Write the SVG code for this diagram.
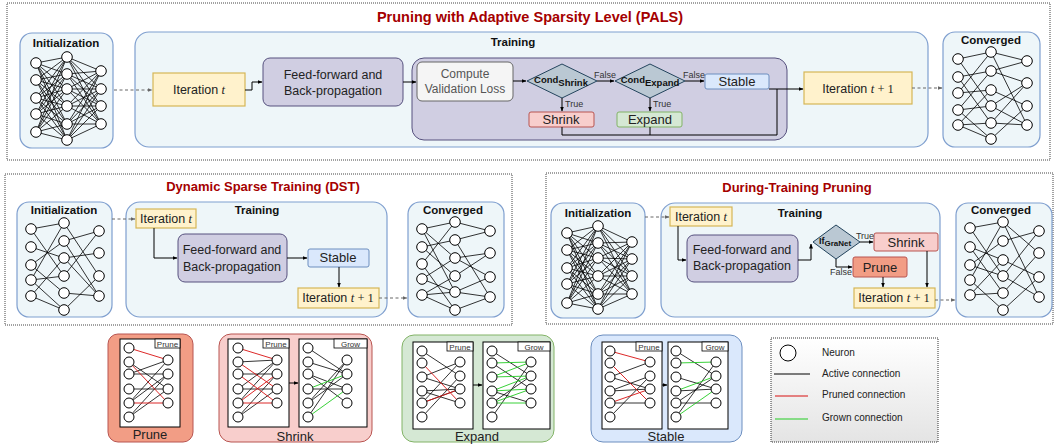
<svg xmlns="http://www.w3.org/2000/svg" width="1055" height="445" viewBox="0 0 1055 445">
<defs>
<marker id="arr" viewBox="0 0 10 10" refX="9" refY="5" markerWidth="5" markerHeight="5" orient="auto"><path d="M0,1L10,5L0,9z" fill="#000"/></marker>
<marker id="arrg" viewBox="0 0 10 10" refX="9" refY="5" markerWidth="5" markerHeight="5" orient="auto"><path d="M0,1L10,5L0,9z" fill="#666"/></marker>
<linearGradient id="lg" x1="0" y1="0" x2="0" y2="1"><stop offset="0" stop-color="#ffffff"/><stop offset="1" stop-color="#e4e4e4"/></linearGradient>
</defs>
<style>
text{font-family:"Liberation Sans",Arial,sans-serif;fill:#222}
.title{font-size:13px;font-weight:bold;fill:#a50000;text-anchor:middle}
.hdr{font-size:11.5px;font-weight:bold;fill:#111;text-anchor:middle}
.lbl{font-size:12.5px;text-anchor:middle}
.small{font-size:9px;fill:#333}
.m{font-family:"Liberation Serif","Times New Roman",serif}
.mi{font-family:"Liberation Serif","Times New Roman",serif;font-style:italic}
.outer{fill:none;stroke:#444;stroke-width:1;stroke-dasharray:1 1}
.cont{fill:#eef6f9;stroke:#7f9fcf;stroke-width:1.2}
.ff{fill:#d0cee2;stroke:#56517e;stroke-width:1}
.iter{fill:#fff2cc;stroke:#d6b656;stroke-width:1.2}
.stab{fill:#dae8fc;stroke:#6c8ebf;stroke-width:1}
.shr{fill:#f8cecc;stroke:#b85450;stroke-width:1}
.exp{fill:#d5e8d4;stroke:#82b366;stroke-width:1}
.prn{fill:#f29d85;stroke:#b85450;stroke-width:1}
.dia{fill:#bac8d3;stroke:#23445d;stroke-width:1}
.e{fill:none;stroke:#000;stroke-width:0.8}
.er{fill:none;stroke:#d81010;stroke-width:0.9}
.eg{fill:none;stroke:#22cc22;stroke-width:0.9}
.n circle{fill:#fff;stroke:#000;stroke-width:1}
.ib{fill:#fff;stroke:#000;stroke-width:1}
.tag{fill:#fff;stroke:#000;stroke-width:0.8}
.tagt{font-size:8px;fill:#333;text-anchor:middle}
.c{fill:none;stroke:#000;stroke-width:1}
.cd{fill:none;stroke:#666;stroke-width:1;stroke-dasharray:3 2.5}
</style>

<!-- ================= PALS ================= -->
<rect class="outer" x="7" y="3" width="1043" height="157"/>
<text class="title" x="530" y="22" style="font-size:14.5px">Pruning with Adaptive Sparsity Level (PALS)</text>

<g id="pals-init">
<rect class="cont" x="20" y="33" width="93" height="115" rx="12"/>
<text class="hdr" x="66" y="47">Initialization</text>
<path class="e" d="M36 63L67 57M36 63L67 74M36 63L67 89M36 63L67 106M36 63L67 124M36 63L67 140M36 80L67 57M36 80L67 74M36 80L67 89M36 80L67 106M36 80L67 124M36 80L67 140M36 98L67 57M36 98L67 74M36 98L67 89M36 98L67 106M36 98L67 124M36 98L67 140M36 114L67 57M36 114L67 74M36 114L67 89M36 114L67 106M36 114L67 124M36 114L67 140M36 132L67 57M36 132L67 74M36 132L67 89M36 132L67 106M36 132L67 124M36 132L67 140M67 57L101 71M67 57L101 89M67 57L101 106M67 57L101 124M67 74L101 71M67 74L101 89M67 74L101 106M67 74L101 124M67 89L101 71M67 89L101 89M67 89L101 106M67 89L101 124M67 106L101 71M67 106L101 89M67 106L101 106M67 106L101 124M67 124L101 71M67 124L101 89M67 124L101 106M67 124L101 124M67 140L101 71M67 140L101 89M67 140L101 106M67 140L101 124"/>
<g class="n">
<circle cx="36" cy="63" r="5.3"/><circle cx="36" cy="80" r="5.3"/><circle cx="36" cy="98" r="5.3"/><circle cx="36" cy="114" r="5.3"/><circle cx="36" cy="132" r="5.3"/>
<circle cx="67" cy="57" r="5.3"/><circle cx="67" cy="74" r="5.3"/><circle cx="67" cy="89" r="5.3"/><circle cx="67" cy="106" r="5.3"/><circle cx="67" cy="124" r="5.3"/><circle cx="67" cy="140" r="5.3"/>
<circle cx="101" cy="71" r="5.3"/><circle cx="101" cy="89" r="5.3"/><circle cx="101" cy="106" r="5.3"/><circle cx="101" cy="124" r="5.3"/>
</g>
</g>

<g id="pals-training">
<rect class="cont" x="135" y="32" width="793" height="115" rx="14"/>
<text class="hdr" x="513" y="46">Training</text>
</g>
<g id="pals-loop">
<rect class="ff" x="412" y="58" width="375" height="82" rx="12"/>
</g>
<g id="pals-iter-t">
<rect class="iter" x="153" y="73" width="92" height="33"/>
<text class="lbl" x="199" y="94">Iteration <tspan class="mi">t</tspan></text>
</g>
<g id="pals-ff">
<rect class="ff" x="263" y="58" width="140" height="48" rx="7"/>
<text class="lbl" x="333" y="79">Feed-forward and</text>
<text class="lbl" x="333" y="95">Back-propagation</text>
</g>
<g id="pals-compute">
<rect x="417" y="62" width="96" height="39" rx="5" fill="#f5f5f5" stroke="#666"/>
<text class="lbl" x="465" y="78" style="fill:#555;font-size:12px">Compute</text>
<text class="lbl" x="465" y="93" style="fill:#555;font-size:12px">Validation Loss</text>
</g>
<g id="pals-cond-shrink">
<polygon class="dia" points="527,81 562,64 597,81 562,98"/>
<text x="561" y="83" style="font-size:9.5px;font-weight:bold;text-anchor:middle;fill:#111">Cond<tspan dy="3">Shrink</tspan></text>
</g>
<g id="pals-cond-expand">
<polygon class="dia" points="615,81 650,64 685,81 650,98"/>
<text x="650" y="83" style="font-size:9.5px;font-weight:bold;text-anchor:middle;fill:#111">Cond<tspan dy="3">Expand</tspan></text>
</g>
<g id="pals-stable">
<rect class="stab" x="705" y="74" width="64" height="15" rx="2"/>
<text class="lbl" x="737" y="86" style="font-size:13px">Stable</text>
</g>
<g id="pals-shrink">
<rect class="shr" x="529" y="112" width="65" height="15" rx="2"/>
<text class="lbl" x="561" y="124" style="font-size:13px">Shrink</text>
</g>
<g id="pals-expand">
<rect class="exp" x="617" y="112" width="65" height="15" rx="2"/>
<text class="lbl" x="650" y="124" style="font-size:13px">Expand</text>
</g>
<g id="pals-iter-t1">
<rect class="iter" x="804" y="72" width="108" height="32"/>
<text class="lbl" x="858" y="93">Iteration <tspan class="mi">t</tspan><tspan class="m"> + 1</tspan></text>
</g>

<g id="pals-converged">
<rect class="cont" x="943" y="32" width="97" height="115" rx="12"/>
<text class="hdr" x="991" y="44">Converged</text>
<path class="e" d="M958 59L991 52M958 59L991 106M958 77L991 71M958 77L991 123M958 93L991 52M958 93L991 90M958 110L991 71M958 110L991 106M958 110L991 139M958 125L991 90M958 125L991 123M958 125L991 139M991 52L1027 61M991 52L1027 125M991 71L1027 61M991 71L1027 83M991 90L1027 106M991 106L1027 83M991 106L1027 125M991 123L1027 83M991 123L1027 125M991 139L1027 106"/>
<g class="n">
<circle cx="958" cy="59" r="5.3"/><circle cx="958" cy="77" r="5.3"/><circle cx="958" cy="93" r="5.3"/><circle cx="958" cy="110" r="5.3"/><circle cx="958" cy="125" r="5.3"/>
<circle cx="991" cy="52" r="5.3"/><circle cx="991" cy="71" r="5.3"/><circle cx="991" cy="90" r="5.3"/><circle cx="991" cy="106" r="5.3"/><circle cx="991" cy="123" r="5.3"/><circle cx="991" cy="139" r="5.3"/>
<circle cx="1027" cy="61" r="5.3"/><circle cx="1027" cy="83" r="5.3"/><circle cx="1027" cy="106" r="5.3"/><circle cx="1027" cy="125" r="5.3"/>
</g>
</g>

<!-- ================= DST ================= -->
<rect class="outer" x="5" y="174" width="507" height="151"/>
<text class="title" x="263" y="191">Dynamic Sparse Training (DST)</text>

<g id="dst-init">
<rect class="cont" x="17" y="202" width="95" height="115" rx="12"/>
<text class="hdr" x="64" y="214">Initialization</text>
<path class="e" d="M31 229L64 223M31 229L64 276M31 247L64 258M31 265L64 241M31 265L64 293M31 280L64 223M31 280L64 276M31 280L64 310M31 296L64 258M31 296L64 310M64 223L99 276M64 241L99 231M64 241L99 296M64 258L99 253M64 276L99 231M64 293L99 296M64 310L99 276M64 258L99 296"/>
<g class="n">
<circle cx="31" cy="229" r="5.3"/><circle cx="31" cy="247" r="5.3"/><circle cx="31" cy="265" r="5.3"/><circle cx="31" cy="280" r="5.3"/><circle cx="31" cy="296" r="5.3"/>
<circle cx="64" cy="223" r="5.3"/><circle cx="64" cy="241" r="5.3"/><circle cx="64" cy="258" r="5.3"/><circle cx="64" cy="276" r="5.3"/><circle cx="64" cy="293" r="5.3"/><circle cx="64" cy="310" r="5.3"/>
<circle cx="99" cy="231" r="5.3"/><circle cx="99" cy="253" r="5.3"/><circle cx="99" cy="276" r="5.3"/><circle cx="99" cy="296" r="5.3"/>
</g>
</g>
<g id="dst-training">
<rect class="cont" x="126" y="202" width="261" height="115" rx="14"/>
<text class="hdr" x="257" y="214">Training</text>
</g>
<g id="dst-iter-t">
<rect class="iter" x="136" y="209" width="60" height="19"/>
<text class="lbl" x="166" y="223">Iteration <tspan class="mi">t</tspan></text>
</g>
<g id="dst-ff">
<rect class="ff" x="178" y="234" width="109" height="48" rx="7"/>
<text class="lbl" x="232" y="254">Feed-forward and</text>
<text class="lbl" x="232" y="271">Back-propagation</text>
</g>
<g id="dst-stable">
<rect class="stab" x="308" y="249" width="61" height="18" rx="2"/>
<text class="lbl" x="338" y="262" style="font-size:13px">Stable</text>
</g>
<g id="dst-iter-t1">
<rect class="iter" x="298" y="288" width="81" height="20"/>
<text class="lbl" x="338" y="302">Iteration <tspan class="mi">t</tspan><tspan class="m"> + 1</tspan></text>
</g>
<g id="dst-converged">
<rect class="cont" x="408" y="202" width="96" height="115" rx="12"/>
<text class="hdr" x="453" y="214">Converged</text>
<path class="e" d="M422 229L455 222M422 229L455 258M422 229L455 292M422 247L455 240M422 247L455 276M422 264L455 222M422 264L455 310M422 279L455 258M422 279L455 292M422 295L455 276M422 295L455 292M422 295L455 310M455 222L490 231M455 240L490 231M455 240L490 297M455 258L490 253M455 258L490 277M455 276L490 253M455 292L490 277M455 292L490 297M455 310L490 297"/>
<g class="n">
<circle cx="422" cy="229" r="5.3"/><circle cx="422" cy="247" r="5.3"/><circle cx="422" cy="264" r="5.3"/><circle cx="422" cy="279" r="5.3"/><circle cx="422" cy="295" r="5.3"/>
<circle cx="455" cy="222" r="5.3"/><circle cx="455" cy="240" r="5.3"/><circle cx="455" cy="258" r="5.3"/><circle cx="455" cy="276" r="5.3"/><circle cx="455" cy="292" r="5.3"/><circle cx="455" cy="310" r="5.3"/>
<circle cx="490" cy="231" r="5.3"/><circle cx="490" cy="253" r="5.3"/><circle cx="490" cy="277" r="5.3"/><circle cx="490" cy="297" r="5.3"/>
</g>
</g>

<!-- ================= During-Training Pruning ================= -->
<rect class="outer" x="546" y="173" width="507" height="151"/>
<text class="title" x="797" y="192">During-Training Pruning</text>

<g id="dtp-init">
<rect class="cont" x="551" y="203" width="94" height="115" rx="12"/>
<text class="hdr" x="598" y="217">Initialization</text>
<path class="e" d="M567 233L598 226M567 233L598 243M567 233L598 258M567 233L598 276M567 233L598 294M567 233L598 309M567 250L598 226M567 250L598 243M567 250L598 258M567 250L598 276M567 250L598 294M567 250L598 309M567 268L598 226M567 268L598 243M567 268L598 258M567 268L598 276M567 268L598 294M567 268L598 309M567 284L598 226M567 284L598 243M567 284L598 258M567 284L598 276M567 284L598 294M567 284L598 309M567 303L598 226M567 303L598 243M567 303L598 258M567 303L598 276M567 303L598 294M567 303L598 309M598 226L632 242M598 226L632 259M598 226L632 276M598 226L632 294M598 243L632 242M598 243L632 259M598 243L632 276M598 243L632 294M598 258L632 242M598 258L632 259M598 258L632 276M598 258L632 294M598 276L632 242M598 276L632 259M598 276L632 276M598 276L632 294M598 294L632 242M598 294L632 259M598 294L632 276M598 294L632 294M598 309L632 242M598 309L632 259M598 309L632 276M598 309L632 294"/>
<g class="n">
<circle cx="567" cy="233" r="5.3"/><circle cx="567" cy="250" r="5.3"/><circle cx="567" cy="268" r="5.3"/><circle cx="567" cy="284" r="5.3"/><circle cx="567" cy="303" r="5.3"/>
<circle cx="598" cy="226" r="5.3"/><circle cx="598" cy="243" r="5.3"/><circle cx="598" cy="258" r="5.3"/><circle cx="598" cy="276" r="5.3"/><circle cx="598" cy="294" r="5.3"/><circle cx="598" cy="309" r="5.3"/>
<circle cx="632" cy="242" r="5.3"/><circle cx="632" cy="259" r="5.3"/><circle cx="632" cy="276" r="5.3"/><circle cx="632" cy="294" r="5.3"/>
</g>
</g>
<g id="dtp-training">
<rect class="cont" x="661" y="203" width="279" height="114" rx="14"/>
<text class="hdr" x="800" y="217">Training</text>
</g>
<g id="dtp-iter-t">
<rect class="iter" x="670" y="207" width="62" height="19"/>
<text class="lbl" x="701" y="221">Iteration <tspan class="mi">t</tspan></text>
</g>
<g id="dtp-ff">
<rect class="ff" x="687" y="235" width="111" height="47" rx="7"/>
<text class="lbl" x="742" y="254">Feed-forward and</text>
<text class="lbl" x="742" y="270">Back-propagation</text>
</g>
<g id="dtp-if">
<polygon class="dia" points="813,242 836,225 860,242 836,259"/>
<text x="835" y="244" style="font-size:9px;font-weight:bold;text-anchor:middle;fill:#111">If<tspan dy="2" style="font-size:8px">GraNet</tspan></text>
</g>
<g id="dtp-shrink">
<rect class="shr" x="874" y="233" width="64" height="18" rx="2"/>
<text class="lbl" x="906" y="247" style="font-size:13px">Shrink</text>
</g>
<g id="dtp-prune">
<rect class="prn" x="853" y="257" width="54" height="20" rx="2"/>
<text class="lbl" x="880" y="272" style="font-size:13px">Prune</text>
</g>
<g id="dtp-iter-t1">
<rect class="iter" x="854" y="288" width="81" height="20"/>
<text class="lbl" x="894" y="302">Iteration <tspan class="mi">t</tspan><tspan class="m"> + 1</tspan></text>
</g>
<g id="dtp-converged">
<rect class="cont" x="956" y="203" width="96" height="114" rx="12"/>
<text class="hdr" x="1001" y="214">Converged</text>
<path class="e" d="M970 228L1003 222M970 228L1003 276M970 247L1003 260M970 247L1003 293M970 265L1003 241M970 265L1003 276M970 280L1003 222M970 280L1003 310M970 295L1003 260M970 295L1003 293M1003 222L1039 253M1003 222L1039 297M1003 241L1039 231M1003 260L1039 277M1003 276L1039 231M1003 276L1039 297M1003 293L1039 253M1003 310L1039 277"/>
<g class="n">
<circle cx="970" cy="228" r="5.3"/><circle cx="970" cy="247" r="5.3"/><circle cx="970" cy="265" r="5.3"/><circle cx="970" cy="280" r="5.3"/><circle cx="970" cy="295" r="5.3"/>
<circle cx="1003" cy="222" r="5.3"/><circle cx="1003" cy="241" r="5.3"/><circle cx="1003" cy="260" r="5.3"/><circle cx="1003" cy="276" r="5.3"/><circle cx="1003" cy="293" r="5.3"/><circle cx="1003" cy="310" r="5.3"/>
<circle cx="1039" cy="231" r="5.3"/><circle cx="1039" cy="253" r="5.3"/><circle cx="1039" cy="277" r="5.3"/><circle cx="1039" cy="297" r="5.3"/>
</g>
</g>

<!-- ================= Connectors ================= -->
<g id="connectors">
<path class="cd" d="M114 90H152" marker-end="url(#arrg)"/>
<path class="c" d="M245 90H252V82H262" marker-end="url(#arr)"/>
<path class="c" d="M403 82H416" marker-end="url(#arr)"/>
<path class="c" d="M513 81H526" marker-end="url(#arr)"/>
<path class="c" d="M597 81H614" marker-end="url(#arr)"/>
<path class="c" d="M685 81H704" marker-end="url(#arr)"/>
<path class="c" d="M562 98V111" marker-end="url(#arr)"/>
<path class="c" d="M650 98V111" marker-end="url(#arr)"/>
<path class="c" d="M562 127V135H777V89"/>
<path class="c" d="M650 127V135"/>
<path class="c" d="M769 89H803" marker-end="url(#arr)"/>
<path class="cd" d="M912 88H942" marker-end="url(#arrg)"/>
<text class="small" x="605" y="78" style="text-anchor:middle">False</text>
<text class="small" x="694" y="78" style="text-anchor:middle">False</text>
<text class="small" x="565" y="107">True</text>
<text class="small" x="653" y="107">True</text>

<path class="cd" d="M112 219H135" marker-end="url(#arrg)"/>
<path class="c" d="M154 228V258H177" marker-end="url(#arr)"/>
<path class="c" d="M287 258H307" marker-end="url(#arr)"/>
<path class="c" d="M339 267V287" marker-end="url(#arr)"/>
<path class="cd" d="M379 298H407" marker-end="url(#arrg)"/>

<path class="cd" d="M645 217H669" marker-end="url(#arrg)"/>
<path class="c" d="M678 226V260H686" marker-end="url(#arr)"/>
<path class="c" d="M798 260H811V244" marker-end="url(#arr)"/>
<path class="c" d="M860 242H873" marker-end="url(#arr)"/>
<path class="c" d="M836 259V267H852" marker-end="url(#arr)"/>
<path class="c" d="M883 277V287" marker-end="url(#arr)"/>
<path class="c" d="M927 251V287" marker-end="url(#arr)"/>
<path class="cd" d="M935 300H955" marker-end="url(#arrg)"/>
<text class="small" x="865" y="239" style="text-anchor:middle">True</text>
<text class="small" x="841" y="275" style="text-anchor:middle">False</text>
</g>

<!-- ================= Bottom panels ================= -->
<g id="panel-prune">
<rect class="prn" x="108" y="334" width="85" height="108" rx="10"/>
<rect class="ib" x="120" y="339" width="60" height="88"/>
<rect class="tag" x="155" y="339" width="25" height="9"/>
<text class="tagt" x="167.5" y="346.5">Prune</text>
<path class="e" d="M129 374L168 360M129 374L168 374M129 389L168 389M129 403L168 360M129 403L168 374M129 417L168 374M129 417L168 389M129 362L168 389"/>
<path class="er" d="M129 348L168 360M129 362L168 403M129 403L168 403"/>
<g class="n">
<circle cx="129" cy="348" r="5"/><circle cx="129" cy="362" r="5"/><circle cx="129" cy="374" r="5"/><circle cx="129" cy="389" r="5"/><circle cx="129" cy="403" r="5"/><circle cx="129" cy="417" r="5"/>
<circle cx="168" cy="360" r="5"/><circle cx="168" cy="374" r="5"/><circle cx="168" cy="389" r="5"/><circle cx="168" cy="403" r="5"/>
</g>
<text class="lbl" x="150" y="439" style="font-size:13px">Prune</text>
</g>

<g id="panel-shrink">
<rect class="shr" x="219" y="334" width="153" height="108" rx="12"/>
<rect class="ib" x="228" y="339" width="61" height="88"/>
<rect class="tag" x="263" y="339" width="26" height="9"/>
<text class="tagt" x="276" y="346.5">Prune</text>
<rect class="ib" x="299" y="339" width="68" height="88"/>
<rect class="tag" x="334" y="339" width="33" height="9"/>
<text class="tagt" x="350.5" y="346.5">Grow</text>
<path class="c" d="M289 383H298" marker-end="url(#arr)"/>
<path class="e" d="M238 374L277 374M238 389L277 389M238 389L277 360M238 417L277 374M238 417L277 389M238 403L277 360M238 362L277 360"/>
<path class="er" d="M238 348L277 360M238 362L277 389M238 374L277 403M238 403L277 374M238 403L277 403"/>
<path class="e" d="M308 348L347 374M308 362L347 374M308 374L347 389M308 389L347 389M308 403L347 374M308 403L347 360M308 417L347 360M308 374L347 403"/>
<path class="eg" d="M308 389L347 374M308 417L347 389"/>
<g class="n">
<circle cx="238" cy="348" r="5"/><circle cx="238" cy="362" r="5"/><circle cx="238" cy="374" r="5"/><circle cx="238" cy="389" r="5"/><circle cx="238" cy="403" r="5"/><circle cx="238" cy="417" r="5"/>
<circle cx="277" cy="360" r="5"/><circle cx="277" cy="374" r="5"/><circle cx="277" cy="389" r="5"/><circle cx="277" cy="403" r="5"/>
<circle cx="308" cy="348" r="5"/><circle cx="308" cy="362" r="5"/><circle cx="308" cy="374" r="5"/><circle cx="308" cy="389" r="5"/><circle cx="308" cy="403" r="5"/><circle cx="308" cy="417" r="5"/>
<circle cx="347" cy="360" r="5"/><circle cx="347" cy="374" r="5"/><circle cx="347" cy="389" r="5"/><circle cx="347" cy="403" r="5"/>
</g>
<text class="lbl" x="295" y="441" style="font-size:13px">Shrink</text>
</g>

<g id="panel-expand">
<rect class="exp" x="402" y="335" width="152" height="107" rx="12"/>
<rect class="ib" x="413" y="342" width="60" height="87"/>
<rect class="tag" x="447" y="342" width="26" height="9"/>
<text class="tagt" x="460" y="349.5">Prune</text>
<rect class="ib" x="483" y="342" width="67" height="87"/>
<rect class="tag" x="518" y="342" width="32" height="9"/>
<text class="tagt" x="534" y="349.5">Grow</text>
<path class="c" d="M473 385H482" marker-end="url(#arr)"/>
<path class="e" d="M422 351L460 376M422 377L460 362M422 391L460 389M422 391L460 403M422 403L460 362M422 417L460 376M422 403L460 389M422 377L460 389"/>
<path class="er" d="M422 363L460 403M422 403L460 389"/>
<path class="e" d="M492 351L531 376M492 363L531 389M492 391L531 403M492 417L531 362M492 403L531 376"/>
<path class="eg" d="M492 363L531 362M492 377L531 362M492 377L531 376M492 391L531 389M492 391L531 376M492 403L531 403M492 403L531 389"/>
<g class="n">
<circle cx="422" cy="351" r="5"/><circle cx="422" cy="363" r="5"/><circle cx="422" cy="377" r="5"/><circle cx="422" cy="391" r="5"/><circle cx="422" cy="403" r="5"/><circle cx="422" cy="417" r="5"/>
<circle cx="460" cy="362" r="5"/><circle cx="460" cy="376" r="5"/><circle cx="460" cy="389" r="5"/><circle cx="460" cy="403" r="5"/>
<circle cx="492" cy="351" r="5"/><circle cx="492" cy="363" r="5"/><circle cx="492" cy="377" r="5"/><circle cx="492" cy="391" r="5"/><circle cx="492" cy="403" r="5"/><circle cx="492" cy="417" r="5"/>
<circle cx="531" cy="362" r="5"/><circle cx="531" cy="376" r="5"/><circle cx="531" cy="389" r="5"/><circle cx="531" cy="403" r="5"/>
</g>
<text class="lbl" x="477" y="441" style="font-size:13px">Expand</text>
</g>

<g id="panel-stable">
<rect class="stab" x="591" y="335" width="151" height="107" rx="12"/>
<rect class="ib" x="602" y="342" width="60" height="87"/>
<rect class="tag" x="636" y="342" width="26" height="9"/>
<text class="tagt" x="649" y="349.5">Prune</text>
<rect class="ib" x="668" y="342" width="60" height="87"/>
<rect class="tag" x="702" y="342" width="26" height="9"/>
<text class="tagt" x="715" y="349.5">Grow</text>
<path class="c" d="M662 385H667" marker-end="url(#arr)"/>
<path class="e" d="M610 377L650 362M610 391L650 376M610 391L650 389M610 417L650 376M610 403L650 403M610 377L650 389"/>
<path class="er" d="M610 351L650 362M610 363L650 403M610 403L650 389"/>
<path class="e" d="M676 351L716 376M676 377L716 389M676 391L716 389M676 403L716 403M676 403L716 376M676 417L716 362"/>
<path class="eg" d="M676 363L716 362M676 391L716 376M676 417L716 389"/>
<g class="n">
<circle cx="610" cy="351" r="5"/><circle cx="610" cy="363" r="5"/><circle cx="610" cy="377" r="5"/><circle cx="610" cy="391" r="5"/><circle cx="610" cy="403" r="5"/><circle cx="610" cy="417" r="5"/>
<circle cx="650" cy="362" r="5"/><circle cx="650" cy="376" r="5"/><circle cx="650" cy="389" r="5"/><circle cx="650" cy="403" r="5"/>
<circle cx="676" cy="351" r="5"/><circle cx="676" cy="363" r="5"/><circle cx="676" cy="377" r="5"/><circle cx="676" cy="391" r="5"/><circle cx="676" cy="403" r="5"/><circle cx="676" cy="417" r="5"/>
<circle cx="716" cy="362" r="5"/><circle cx="716" cy="376" r="5"/><circle cx="716" cy="389" r="5"/><circle cx="716" cy="403" r="5"/>
</g>
<text class="lbl" x="666" y="441" style="font-size:13px">Stable</text>
</g>

<g id="legend">
<rect x="771" y="338" width="167" height="104" fill="url(#lg)" stroke="#333" stroke-width="1" stroke-dasharray="1 1"/>
<circle cx="788" cy="353" r="8" fill="#fff" stroke="#000" stroke-width="1"/>
<path d="M774 374H810" stroke="#000" stroke-width="1"/>
<path d="M775 396H808" stroke="#d81010" stroke-width="1"/>
<path d="M775 419H808" stroke="#22cc22" stroke-width="1"/>
<text x="822" y="356" style="font-size:10px">Neuron</text>
<text x="822" y="377" style="font-size:10px">Active connection</text>
<text x="822" y="398" style="font-size:10px">Pruned connection</text>
<text x="822" y="421" style="font-size:10px">Grown connection</text>
</g>
</svg>
